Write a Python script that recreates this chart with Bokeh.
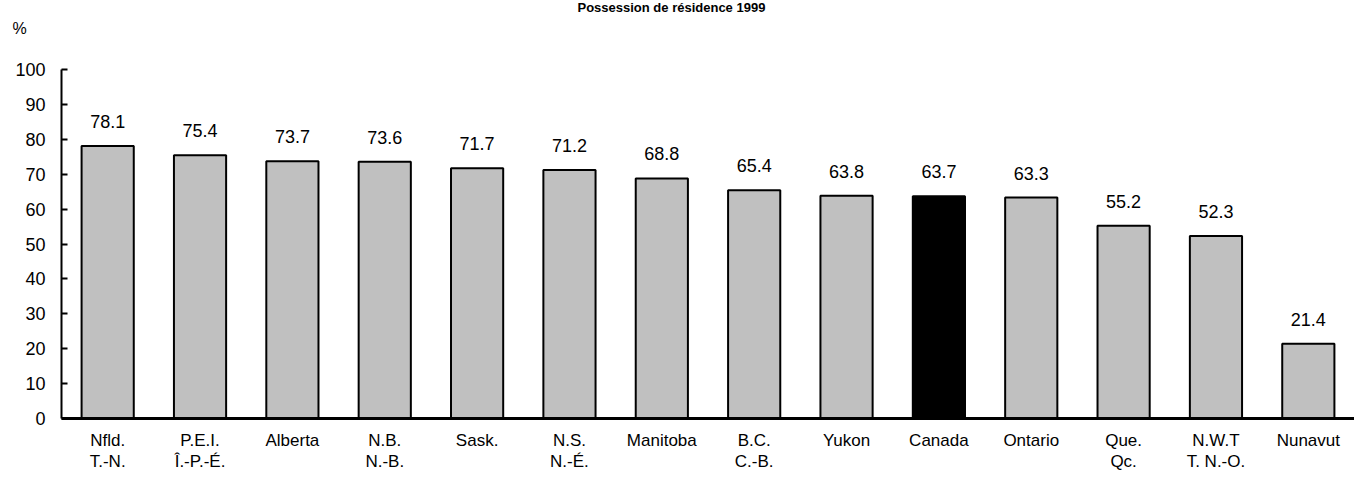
from bokeh.plotting import figure
from bokeh.models import ColumnDataSource, Range1d, FactorRange, Title, FixedTicker
from bokeh.core.properties import value
from bokeh.embed import file_html
from bokeh.resources import INLINE

categories = ["Nfld.\nT.-N.", "P.E.I.\nÎ.-P.-É.", "Alberta", "N.B.\nN.-B.", "Sask.",
              "N.S.\nN.-É.", "Manitoba", "B.C.\nC.-B.", "Yukon", "Canada", "Ontario",
              "Que.\nQc.", "N.W.T\nT. N.-O.", "Nunavut"]
values = [78.1, 75.4, 73.7, 73.6, 71.7, 71.2, 68.8, 65.4, 63.8, 63.7, 63.3, 55.2, 52.3, 21.4]
title_text = "Possession de résidence 1999"
unit_text = "%"
y_ticks = [0, 10, 20, 30, 40, 50, 60, 70, 80, 90, 100]

FONT = "Liberation Sans"

colors = ["#000000" if c == "Canada" else "#C0C0C0" for c in categories]
labels = [f"{v:.1f}" for v in values]
src = ColumnDataSource(dict(cat=categories, val=values, color=colors, label=labels))

p = figure(width=1354, height=481, x_range=FactorRange(*categories, range_padding=0),
           y_range=Range1d(0, 100), output_backend="svg", toolbar_location=None,
           title=title_text,
           min_border_left=61, min_border_right=0, min_border_top=69, min_border_bottom=63)
p.outline_line_color = None
p.xgrid.grid_line_color = None
p.ygrid.grid_line_color = None

# main title (outermost, at the very top)
p.title.align = "left"
p.title.offset = 516
p.title.standoff = -5
p.title.text_font = FONT
p.title.text_font_size = "13px"
p.title.text_font_style = "bold"
p.title.text_color = "black"

# blank spacer next to the plot area
spacer = Title(text=" ", align="left", standoff=9, text_font=FONT,
               text_font_size="16px", text_color="white")
p.add_layout(spacer, "above")

# "%" unit label, between the spacer and the main title
unit_title = Title(text=unit_text, align="left", offset=-49, standoff=10,
                   text_font=FONT, text_font_size="16px", text_font_style="normal",
                   text_color="black")
p.add_layout(unit_title, "above")

p.vbar(x="cat", top="val", width=0.565, fill_color="color", line_color="black",
       line_width=2, source=src)
p.text(x="cat", y="val", text="label", source=src, text_align="center",
       text_baseline="bottom", y_offset=-18, text_font=value(FONT),
       text_font_size="18px", text_color="black")

# axes
p.yaxis.ticker = FixedTicker(ticks=y_ticks)
p.yaxis.axis_line_width = 2
p.yaxis.axis_line_color = "black"
p.yaxis.major_tick_in = 6
p.yaxis.major_tick_out = 0
p.yaxis.major_tick_line_width = 2
p.yaxis.minor_tick_line_color = None
p.yaxis.major_label_text_font = FONT
p.yaxis.major_label_text_font_size = "18px"
p.yaxis.major_label_text_color = "black"
p.yaxis.major_label_standoff = 16

p.xaxis.axis_line_width = 3
p.xaxis.axis_line_color = "black"
p.xaxis.major_tick_line_color = None
p.xaxis.minor_tick_line_color = None
p.xaxis.major_label_text_font = FONT
p.xaxis.major_label_text_font_size = "17px"
p.xaxis.major_label_text_color = "black"
p.xaxis.major_label_standoff = 6
p.xaxis.major_label_text_line_height = 1.15

open("out.html", "w").write(file_html(p, INLINE))
